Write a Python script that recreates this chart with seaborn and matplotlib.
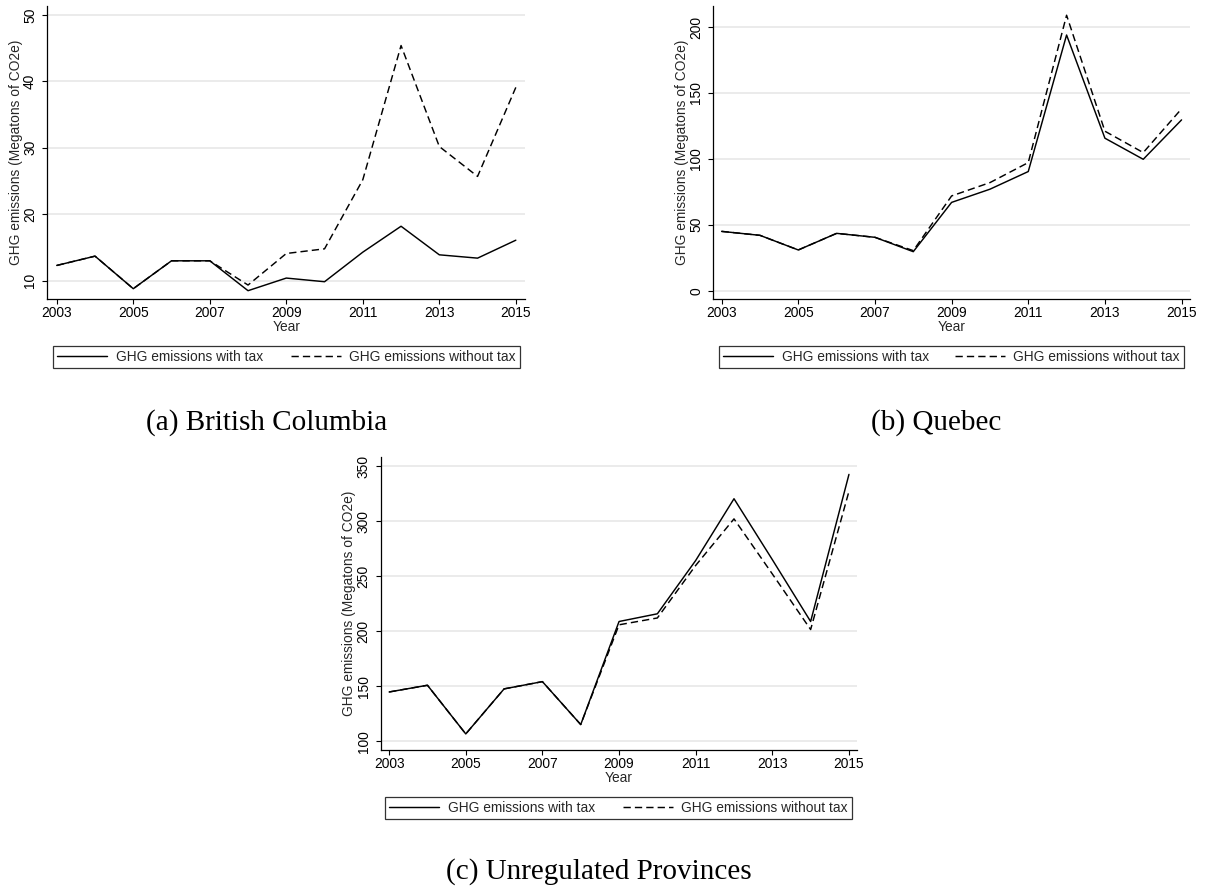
import matplotlib
matplotlib.use("Agg")
import matplotlib.pyplot as plt
import seaborn as sns
import pandas as pd

# ---- data -------------------------------------------------------------
years = [2003, 2004, 2005, 2006, 2007, 2008, 2009, 2010, 2011, 2012, 2013, 2014, 2015]
series_labels = ["GHG emissions with tax", "GHG emissions without tax"]

bc_with_tax = [12.3, 13.7, 8.8, 13.0, 13.0, 8.5, 10.4, 9.85, 14.3, 18.2, 13.9, 13.4, 16.1]
bc_without_tax = [12.3, 13.7, 8.8, 13.0, 13.0, 9.35, 14.1, 14.8, 25.2, 45.4, 30.2, 25.7, 39.1]

qc_with_tax = [45.0, 42.0, 30.9, 43.5, 40.5, 29.6, 67.0, 77.0, 90.4, 194.0, 115.7, 99.7, 129.6]
qc_without_tax = [45.0, 42.0, 30.9, 43.5, 40.5, 30.4, 71.9, 82.0, 97.2, 209.0, 121.0, 104.8, 138.0]

un_with_tax = [144.8, 150.9, 106.7, 147.6, 154.2, 115.2, 208.8, 215.8, 264.2, 320.3, 265.0, 208.8, 342.4]
un_without_tax = [144.8, 150.9, 106.7, 147.6, 154.2, 115.2, 205.8, 212.0, 259.7, 302.0, 252.0, 201.5, 327.0]

x_ticks = [2003, 2005, 2007, 2009, 2011, 2013, 2015]
bc_yticks = [10, 20, 30, 40, 50]
qc_yticks = [0, 50, 100, 150, 200]
un_yticks = [100, 150, 200, 250, 300, 350]

captions = ["(a) British Columbia", "(b) Quebec", "(c) Unregulated Provinces"]

# ---- style ------------------------------------------------------------
sns.set_style("white")
plt.rcParams["font.family"] = ["Liberation Sans", "DejaVu Sans"]
plt.rcParams["font.size"] = 9.9

W, H = 1205, 888
fig = plt.figure(figsize=(W / 100, H / 100), dpi=100)


def axes_px(left, top, right, bottom):
    return fig.add_axes([left / W, 1 - bottom / H, (right - left) / W, (bottom - top) / H])


def draw_panel(ax, with_tax, without_tax, yticks, ylim, xlim, legend_px):
    df = pd.DataFrame({
        "Year": years + years,
        "value": with_tax + without_tax,
        "series": [series_labels[0]] * len(years) + [series_labels[1]] * len(years),
    })
    sns.lineplot(
        data=df, x="Year", y="value", style="series",
        dashes={series_labels[0]: "", series_labels[1]: (5, 2.8)},
        color="black", linewidth=1.05, ax=ax, legend=True,
    )
    handles, labels = ax.get_legend_handles_labels()
    ax.get_legend().remove()

    ax.set_xlim(*xlim)
    ax.set_ylim(*ylim)
    ax.set_xticks(x_ticks)
    ax.set_yticks(yticks)
    ax.yaxis.grid(True, color="#e8e8e8", linewidth=1.2)
    ax.xaxis.grid(False)
    ax.set_axisbelow(True)
    for side in ("top", "right"):
        ax.spines[side].set_visible(False)
    for side in ("left", "bottom"):
        ax.spines[side].set_color("black")
        ax.spines[side].set_linewidth(0.9)
    ax.tick_params(axis="both", direction="out", length=3.3, width=0.8,
                   color="black", labelcolor="black", labelsize=9.9)
    ax.tick_params(axis="x", pad=1.5, bottom=True)
    ax.tick_params(axis="y", pad=4.0, left=True, labelrotation=90)
    for lab in ax.get_yticklabels():
        lab.set_va("center")

    ax.set_xlabel("Year", labelpad=0.5)
    ax.set_ylabel("GHG emissions (Megatons of CO2e)")
    bbox = ax.get_position()
    ax.yaxis.set_label_coords(-24.5 / (bbox.width * W), 0.5)

    lx0, ly0, lx1, ly1 = legend_px
    leg = ax.legend(
        handles, labels, loc="center",
        bbox_to_anchor=(lx0 / W, 1 - ly1 / H, (lx1 - lx0) / W, (ly1 - ly0) / H),
        bbox_transform=fig.transFigure, mode="expand", ncol=2,
        frameon=True, fancybox=False, shadow=False, edgecolor="black",
        borderpad=0.3, handlelength=3.65, handletextpad=0.6,
        columnspacing=1.6, borderaxespad=0, fontsize=9.9,
    )
    leg.get_frame().set_linewidth(0.9)
    leg.get_frame().set_facecolor("white")


ax_a = axes_px(47.2, 6, 525, 299)
draw_panel(ax_a, bc_with_tax, bc_without_tax, bc_yticks, (7.25, 51.35),
           (2002.75, 2015.24), (53, 345, 520, 369))

ax_b = axes_px(713.2, 6, 1190, 299)
draw_panel(ax_b, qc_with_tax, qc_without_tax, qc_yticks, (-6.3, 216),
           (2002.78, 2015.22), (719, 345, 1184, 369))

ax_c = axes_px(380.7, 457, 857, 750)
draw_panel(ax_c, un_with_tax, un_without_tax, un_yticks, (92.1, 358.2),
           (2002.78, 2015.21), (385, 796, 852, 820))

caption_font = dict(family=["Liberation Serif", "DejaVu Serif"], fontsize=21,
                    ha="center", va="baseline", color="black")
fig.text(267 / W, 1 - 430 / H, captions[0], **caption_font)
fig.text(936 / W, 1 - 430 / H, captions[1], **caption_font)
fig.text(599 / W, 1 - 879 / H, captions[2], **caption_font)

fig.savefig("out.png", dpi=100, facecolor="white")
